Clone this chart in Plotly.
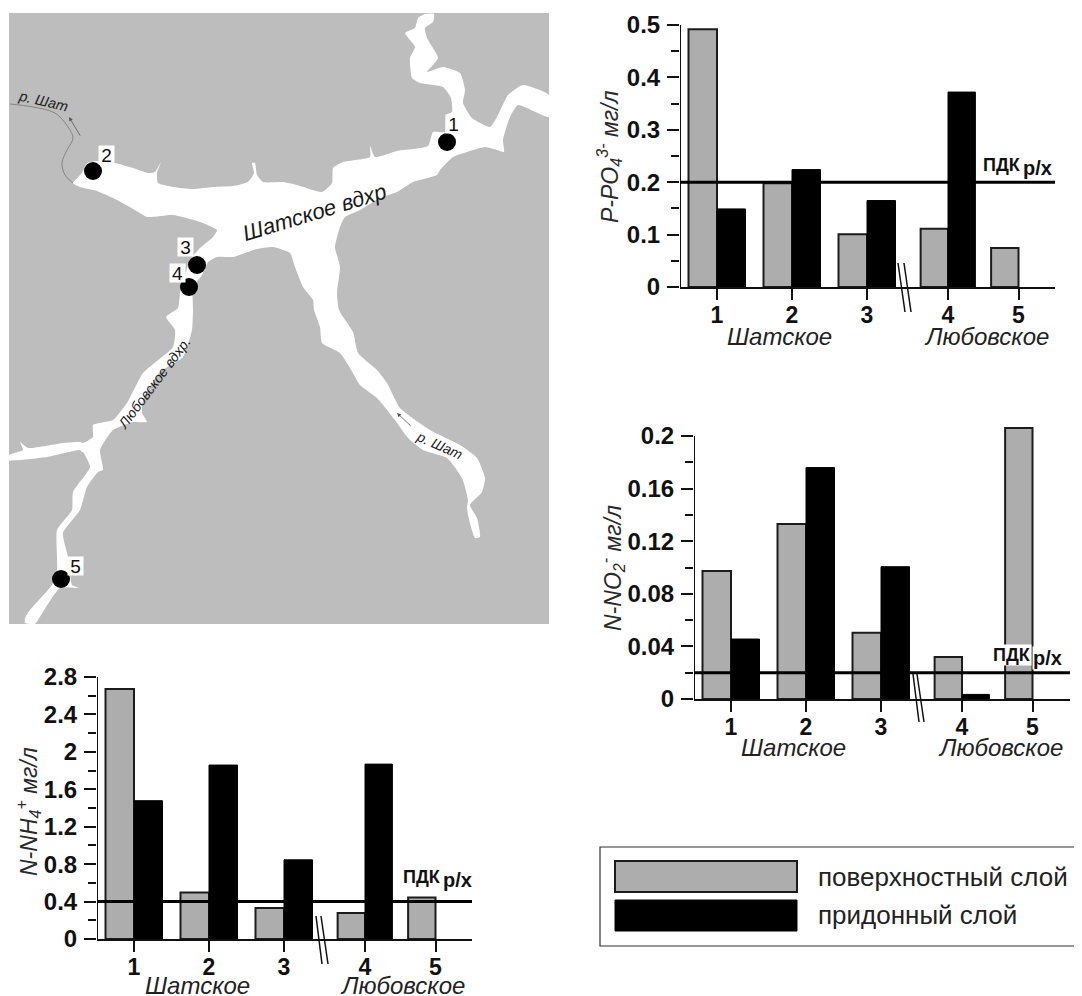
import plotly.graph_objects as go

W, H = 1074, 988   # the page puts the figure 8 px from the window's top-left corner
OFFSET = 8
FONT = "Liberation Sans"
GRAY = "#ADADAD"
LAND = "#BDBDBD"

# ---------- data ----------
stations = ["1", "2", "3", "4", "5"]
station_pos = [1, 2, 3, 4.08, 5.02]
bar_width = [0.38, 0.38, 0.38, 0.365, 0.365]

po4_surface = [0.492, 0.198, 0.1005, 0.111, 0.0744]
po4_bottom = [0.149, 0.224, 0.165, 0.372, None]
po4_limit = 0.2
po4_ticks = [0, 0.1, 0.2, 0.3, 0.4, 0.5]

no2_surface = [0.0973, 0.133, 0.0504, 0.032, 0.206]
no2_bottom = [0.0456, 0.176, 0.1006, 0.0035, None]
no2_limit = 0.02
no2_ticks = [0, 0.04, 0.08, 0.12, 0.16, 0.2]

nh4_surface = [2.672, 0.4975, 0.33, 0.277, 0.444]
nh4_bottom = [1.478, 1.859, 0.846, 1.869, None]
nh4_limit = 0.4
nh4_ticks = [0, 0.4, 0.8, 1.2, 1.6, 2, 2.4, 2.8]

# map (units of the map axes)
land_x = [9, 549, 549, 9, 9]
land_y = [13, 13, 624, 624, 13]
water_x = [73, 82, 87, 100, 115, 133, 148, 155, 161, 157, 158, 173, 193, 213, 233, 248, 254, 252, 255, 257, 263, 283,
           297, 322, 332, 333, 343, 370, 370, 375, 397, 428, 433, 445, 446, 452, 451, 443, 420, 412, 410, 415, 405,
           415, 418, 425, 434, 433, 425, 427, 438, 427, 443, 460, 465, 463, 472, 490, 497, 508, 523, 549, 549, 518,
           510, 503, 504, 497, 485, 467, 453, 440, 437, 413, 397, 380, 360, 345, 340, 335, 340, 337, 339, 353, 358,
           377, 387, 400, 430, 460, 477, 485, 482, 470, 477, 480, 475, 468, 467, 468, 462, 447, 423, 408, 395, 377,
           360, 350, 340, 322, 320, 314, 313, 303, 295, 290, 273, 257, 233, 217, 208, 202, 193, 193, 192, 183, 160,
           143, 142, 147, 133, 113, 100, 103, 98, 87, 80, 63, 68, 70, 72, 79, 60, 38, 35, 25, 25, 30, 52, 57, 57, 57,
           72, 73, 90, 83, 82, 80, 47, 9, 9, 23, 20, 28, 63, 80, 83, 93, 93, 113, 127, 143, 173, 175, 166, 178, 180,
           182, 190, 200, 213, 217, 200, 173, 147, 135, 117, 97, 80, 73]
water_y = [183, 173, 163, 161, 163, 168, 173, 172, 162, 173, 183, 187, 189, 187, 186, 182, 173, 163, 163, 175, 182,
           182, 185, 192, 183, 168, 162, 157, 146, 157, 151, 146, 132, 132, 115, 112, 98, 87, 83, 78, 58, 47, 33, 28,
           18, 14, 14, 22, 28, 38, 58, 72, 67, 73, 90, 103, 118, 127, 117, 95, 85, 95, 117, 105, 117, 140, 152, 150,
           147, 152, 157, 170, 175, 182, 192, 198, 210, 217, 227, 247, 267, 293, 310, 332, 353, 370, 383, 408, 430,
           445, 458, 478, 492, 505, 518, 537, 538, 515, 507, 500, 478, 458, 450, 438, 420, 398, 385, 368, 353, 343,
           327, 310, 300, 287, 267, 253, 247, 249, 257, 257, 262, 275, 287, 310, 330, 357, 372, 400, 413, 422, 422,
           430, 450, 470, 472, 487, 510, 533, 557, 573, 585, 588, 588, 620, 624, 623, 618, 610, 585, 570, 557, 530,
           510, 492, 467, 452, 452, 450, 457, 460, 455, 450, 442, 448, 443, 442, 443, 437, 425, 420, 403, 373, 347,
           330, 317, 308, 293, 285, 260, 248, 237, 230, 222, 215, 217, 210, 200, 191, 187, 183]
river_x = [10, 33, 55, 68, 73, 67, 62, 65, 73]
river_y = [104, 107, 113, 127, 138, 150, 163, 175, 183]
site_names = ["1", "2", "3", "4", "5"]
site_x = [447, 93, 197, 189, 61]
site_y = [142, 171, 265, 287, 579]
site_label_x = [453, 106, 185, 177, 75]
site_label_y = [124, 155, 247, 273, 566]


def px(x):
    return (x - OFFSET) / W


def py(y):
    return 1 - (y - OFFSET) / H


traces, shapes, annots = [], [], []


def text(x, y, s, size, bold=False, italic=False, color="#1a1a1a", angle=0, anchor="center", **kw):
    annots.append(dict(
        xref="paper", yref="paper", x=px(x), y=py(y), text=s, showarrow=False,
        xanchor=anchor, yanchor="middle", textangle=angle, borderpad=0,
        font=dict(family=FONT, size=size, color=color, weight=700 if bold else 400,
                  style="italic" if italic else "normal"), **kw))


def seg(x0, y0, x1, y1, width=1.5, color="#111"):
    shapes.append(dict(type="line", xref="paper", yref="paper", x0=px(x0), y0=py(y0), x1=px(x1), y1=py(y1),
                       line=dict(color=color, width=width)))


layout = dict(
    width=W, height=H, margin=dict(l=0, r=0, t=0, b=0, autoexpand=False), showlegend=False,
    paper_bgcolor="white", plot_bgcolor="white", barmode="overlay",
    font=dict(family=FONT),
)

# ---------- map ----------
layout["xaxis"] = dict(domain=[px(9), px(549)], range=[9, 549], visible=False, fixedrange=True)
layout["yaxis"] = dict(domain=[py(624), py(13)], range=[624, 13], visible=False, fixedrange=True)
traces.append(go.Scatter(x=land_x, y=land_y, mode="lines", fill="toself", fillcolor=LAND,
                         line=dict(width=0), hoverinfo="skip", xaxis="x", yaxis="y"))
traces.append(go.Scatter(x=water_x, y=water_y, mode="lines", fill="toself", fillcolor="white",
                         line=dict(width=0, shape="spline", smoothing=0.5), hoverinfo="skip", xaxis="x", yaxis="y"))
traces.append(go.Scatter(x=river_x, y=river_y, mode="lines", line=dict(color="#858585", width=1, shape="spline"),
                         hoverinfo="skip", xaxis="x", yaxis="y"))
traces.append(go.Scatter(x=site_x, y=site_y, mode="markers", marker=dict(color="black", size=18),
                         hoverinfo="skip", xaxis="x", yaxis="y"))
for name, lx, ly in zip(site_names, site_label_x, site_label_y):
    annots.append(dict(xref="x", yref="y", x=lx, y=ly, text=name, showarrow=False, bgcolor="white",
                       width=15, height=18, borderpad=0, font=dict(family=FONT, size=19, color="#111")))
for hx, hy, tx, ty in [(69, 117, 81, 137), (397, 413, 412, 427)]:
    annots.append(dict(xref="x", yref="y", axref="x", ayref="y", x=hx, y=hy, ax=tx, ay=ty, text="",
                       showarrow=True, arrowhead=2, arrowsize=1, arrowwidth=0.8, arrowcolor="#555"))
text(43, 101, "р. Шат", 14.5, italic=True, angle=13)
text(314, 212, "Шатское вдхр", 22, italic=True, angle=-17)
text(154, 383, "Любовское вдхр.", 14, italic=True, angle=-53)
text(439, 445, "р. Шат", 14, italic=True, angle=24)


# ---------- bar charts ----------
def chart(idx, left, right, top, bottom, ymax, rng_top, ticks, minor, surface, bottom_vals, limit, line_l, line_r,
          ytitle, tx, ty, lim_x, lim_y, sh_x, lu_x, gy, brk, lim_bg=None):
    xname, yname = f"x{idx}", f"y{idx}"
    x_low = 1 - 37 / 75
    x_high = x_low + (right - left) / 75
    dom_top = bottom - (bottom - top) * rng_top / ymax
    layout[f"xaxis{idx}"] = dict(
        domain=[px(left), px(right)], range=[x_low, x_high], anchor=yname, tickmode="array",
        tickvals=station_pos, ticktext=stations, ticks="outside", ticklen=11, tickwidth=2, tickcolor="#111",
        ticklabelstandoff=-5,
        showline=True, linewidth=2, linecolor="#111", showgrid=False, zeroline=False, fixedrange=True,
        tickfont=dict(family=FONT, size=23, color="#111", weight=700))
    layout[f"yaxis{idx}"] = dict(
        domain=[py(bottom), py(dom_top)], range=[0, rng_top], anchor=xname, tickmode="array", tickvals=ticks,
        ticks="outside", ticklen=12, tickwidth=2, tickcolor="#111", ticklabelstandoff=2,
        minor=dict(ticks="outside", ticklen=8, tickwidth=2, tickcolor="#111", dtick=minor, showgrid=False),
        showline=False, showgrid=False, zeroline=False, fixedrange=True,
        tickfont=dict(family=FONT, size=24, color="#111", weight=700))
    traces.append(go.Scatter(x=[x_low, x_low], y=[0, ymax], mode="lines", line=dict(color="#111", width=2),
                             cliponaxis=False, xaxis=xname, yaxis=yname, hoverinfo="skip"))
    traces.append(go.Bar(x=station_pos, y=surface, width=bar_width, offset=[-w for w in bar_width],
                         marker=dict(color=GRAY, line=dict(color="#1c1c1c", width=2)),
                         xaxis=xname, yaxis=yname, hoverinfo="skip"))
    traces.append(go.Bar(x=station_pos, y=bottom_vals, width=bar_width, offset=0,
                         marker=dict(color="black", line=dict(color="black", width=1)),
                         xaxis=xname, yaxis=yname, hoverinfo="skip"))
    x_at = lambda p: x_low + (p - left) / 75
    traces.append(go.Scatter(x=[x_at(line_l), x_at(line_r)], y=[limit, limit], mode="lines",
                             line=dict(color="black", width=3), cliponaxis=False,
                             xaxis=xname, yaxis=yname, hoverinfo="skip"))
    text(tx, ty, ytitle, 23, italic=True, angle=-90, color="#2a2a2a")
    text(lim_x, lim_y, "ПДК", 18, bold=True, color="#111", anchor="right", bgcolor=lim_bg)
    text(lim_x, lim_y + 3, "р/х", 20, bold=True, color="#111", anchor="left", bgcolor=lim_bg)
    text(sh_x, gy, "Шатское", 24, italic=True, color="#222")
    text(lu_x, gy, "Любовское", 24, italic=True, color="#222")
    for (a, b, c, d) in brk:
        seg(a, b, c, d)


chart(2, 680, 1055, 25, 287, 0.5, 0.5, po4_ticks, 0.05, po4_surface, po4_bottom, po4_limit, 677, 1058,
      "P-PO<sub>4</sub><sup>3-</sup> мг/л", 609, 157, 1022, 165, 779, 986, 336,
      [(898, 263, 905, 312), (904, 263, 911, 312)])
chart(3, 694, 1070, 436, 699, 0.2, 0.215, no2_ticks, 0.02, no2_surface, no2_bottom, no2_limit, 685, 1072,
      "N-NO<sub>2</sub><sup>-</sup> мг/л", 612, 568, 1032, 655, 793, 1000, 747,
      [(913, 674, 919, 722), (917, 674, 924, 722)], lim_bg="white")
chart(4, 97, 472, 677, 939, 2.8, 2.8, nh4_ticks, 0.2, nh4_surface, nh4_bottom, nh4_limit, 85, 474,
      "N-NH<sub>4</sub><sup>+</sup> мг/л", 28, 812, 442, 877, 197, 402, 985,
      [(316, 916, 322, 964), (321, 916, 328, 964)])

# ---------- legend ----------
legend_items = ["поверхностный слой", "придонный слой"]
shapes.append(dict(type="rect", xref="paper", yref="paper", x0=px(600), x1=px(1082), y0=py(946), y1=py(847),
                   line=dict(color="#333", width=1.2), fillcolor="white"))
shapes.append(dict(type="rect", xref="paper", yref="paper", x0=px(615), x1=px(797), y0=py(892), y1=py(861),
                   line=dict(color="#1c1c1c", width=2), fillcolor=GRAY))
shapes.append(dict(type="rect", xref="paper", yref="paper", x0=px(615), x1=px(797), y0=py(931), y1=py(900),
                   line=dict(color="black", width=1), fillcolor="black"))
text(817, 877, legend_items[0], 26, anchor="left", color="#222")
text(817, 915, legend_items[1], 26, anchor="left", color="#222")

layout["shapes"] = shapes
layout["annotations"] = annots
fig = go.Figure(data=traces, layout=layout)
fig.write_html("out.html", config=dict(displayModeBar=False))
